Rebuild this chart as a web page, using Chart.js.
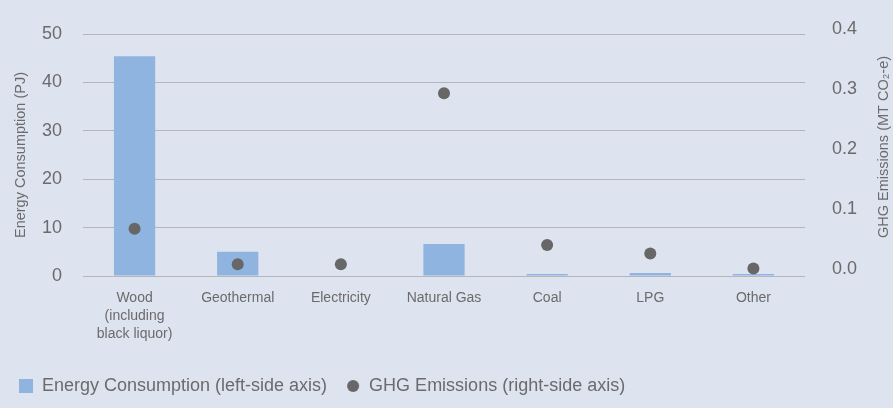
<!DOCTYPE html>
<html>
<head>
<meta charset="utf-8">
<script src="https://cdn.jsdelivr.net/npm/chart.js@4"></script>
<style>
  html, body { margin: 0; padding: 0; background: #dee3f0; }
  #wrap { width: 893px; height: 408px; }
</style>
</head>
<body>
<div id="wrap"><canvas id="myChart"></canvas></div>
<script>
// Chart data
var categories = ['Wood|(including|black liquor)', 'Geothermal', 'Electricity', 'Natural Gas', 'Coal', 'LPG', 'Other'];
var energy = [45.4, 5.0, 0, 6.6, 0.4, 0.6, 0.4];
var emissions = [0.067, 0.008, 0.008, 0.293, 0.040, 0.026, 0.001];
var leftTicks = [0, 10, 20, 30, 40, 50];
var rightTicks = [0.0, 0.1, 0.2, 0.3, 0.4];

var textColor = '#6b6b6b';
var barColor = '#8fb4df';
var dotColor = '#676767';
var font = "'Liberation Sans', Arial, sans-serif";

// small canvases used as legend markers
function makeMarker(draw) {
  var c = document.createElement('canvas');
  c.width = 14; c.height = 14;
  draw(c.getContext('2d'));
  return c;
}
var squareMarker = makeMarker(ctx => { ctx.fillStyle = barColor; ctx.fillRect(0, 0, 14, 14); });
var dotMarker = makeMarker(ctx => { ctx.fillStyle = dotColor; ctx.beginPath(); ctx.arc(7, 7, 6, 0, Math.PI * 2); ctx.fill(); });

// right axis title reads bottom to top, so draw it ourselves
var rightTitle = {
  id: 'rightTitle',
  afterDraw(chart) {
    const ctx = chart.ctx;
    const area = chart.chartArea;
    ctx.save();
    ctx.translate(884, (area.top + area.bottom) / 2 - 8);
    ctx.rotate(-Math.PI / 2);
    ctx.fillStyle = textColor;
    ctx.font = '14.5px ' + font;
    ctx.textAlign = 'center';
    ctx.textBaseline = 'middle';
    ctx.fillText('GHG Emissions (MT CO\u2082-e)', 0, 0);
    ctx.restore();
  }
};

// fixed axis sizes, no extra label padding above the plot
function fitWidth(w) {
  return (scale) => {
    scale.width = w;
    scale.paddingTop = 0;
    scale.paddingBottom = 0;
  };
}

const ctx = document.getElementById('myChart');
var myChart = new Chart(ctx, {
  type: 'bar',
  data: {
    labels: categories.map(c => c.split('|')),
    datasets: [{
      label: 'Energy Consumption (left-side axis)',
      data: energy,
      backgroundColor: barColor,
      yAxisID: 'y',
      categoryPercentage: 1,
      barPercentage: 0.4,
      order: 1,
    }, {
      type: 'line',
      label: 'GHG Emissions (right-side axis)',
      data: emissions,
      showLine: false,
      pointRadius: 6,
      pointBackgroundColor: dotColor,
      pointBorderWidth: 0,
      backgroundColor: dotColor,
      yAxisID: 'y1',
      order: 0,
    }]
  },
  options: {
    responsive: true,
    maintainAspectRatio: false,
    animation: false,
    layout: { padding: { top: 34, bottom: 3, left: 0, right: 0 } },
    scales: {
      x: {
        grid: { display: false },
        border: { display: false },
        ticks: {
          color: textColor,
          font: { family: font, size: 14, lineHeight: 18 / 14 },
          padding: 5,
          maxRotation: 0,
          autoSkip: false,
        },
        afterFit: (scale) => { scale.height = 82; },
      },
      y: {
        position: 'left',
        min: 0,
        max: 50,
        afterBuildTicks: (scale) => { scale.ticks = leftTicks.map(v => ({ value: v })); },
        grid: { color: '#b3b6bf', lineWidth: 1, drawTicks: false },
        border: { display: false },
        ticks: { color: textColor, font: { family: font, size: 18 }, padding: 21 },
        title: {
          display: true,
          text: 'Energy Consumption (PJ)',
          color: textColor,
          font: { family: font, size: 14.5 },
          padding: { top: 12, bottom: 0 },
        },
        afterFit: fitWidth(83),
      },
      y1: {
        position: 'right',
        min: -0.01167,
        max: 0.39167,
        afterBuildTicks: (scale) => { scale.ticks = rightTicks.map(v => ({ value: v })); },
        grid: { display: false, drawTicks: false },
        border: { display: false },
        ticks: {
          color: textColor,
          font: { family: font, size: 18 },
          padding: 27,
          callback: (v) => v.toFixed(1),
        },
        afterFit: fitWidth(88),
      }
    },
    plugins: {
      tooltip: { enabled: false },
      legend: {
        position: 'bottom',
        align: 'start',
        labels: {
          color: textColor,
          font: { family: font, size: 18 },
          usePointStyle: true,
          boxWidth: 14,
          boxHeight: 14,
          padding: 19,
          generateLabels: (chart) => chart.data.datasets.map((ds, i) => ({
            text: ds.label,
            pointStyle: i === 0 ? squareMarker : dotMarker,
            fontColor: textColor,
            datasetIndex: i,
            lineWidth: 0,
            strokeStyle: 'transparent',
            fillStyle: 'transparent',
          })),
        }
      }
    }
  },
  plugins: [rightTitle]
});
</script>
</body>
</html>
